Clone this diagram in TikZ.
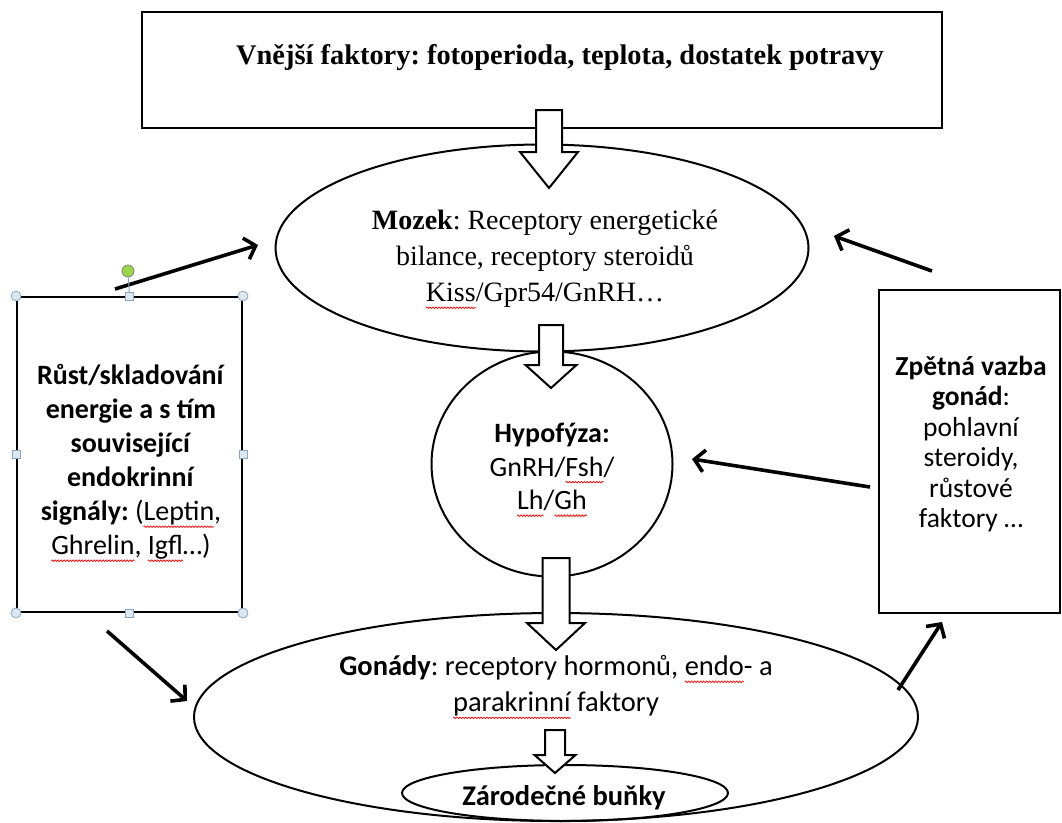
\documentclass[tikz,border=0pt]{standalone}
\usepackage{fontspec}
\setmainfont{Liberation Serif}
\newfontfamily\calib{Carlito}
\usetikzlibrary{shapes.geometric,arrows.meta,decorations.pathmorphing}
\frenchspacing
\newsavebox\sperrbox
\newcommand\sperr[1]{\leavevmode\sbox\sperrbox{#1}\rlap{\usebox\sperrbox}\tikz[baseline=0pt]{\path[use as bounding box] (0pt,0pt) rectangle (\wd\sperrbox,0pt); \draw[red, line width=0.7pt, decorate, decoration={snake, amplitude=0.8pt, segment length=3pt}] (0pt,-6pt) -- (\wd\sperrbox,-6pt);}}
\newcommand\barrow[6]{%
  \draw[blockarr] (#1-#4,#2) -- (#1+#4,#2) -- (#1+#4,#3-#6) -- (#1+#5,#3-#6) -- (#1,#3) -- (#1-#5,#3-#6) -- (#1-#4,#3-#6) -- cycle;}
\tikzset{
  shape line/.style={draw=black, line width=2pt},
  boxnode/.style={shape line, rectangle, inner sep=0pt, fill=white},
  ell/.style={shape line, ellipse, inner sep=0pt},
  blockarr/.style={draw=black, line width=2pt, fill=white, line join=miter},
  conn/.style={line width=3.6pt, -{Straight Barb[length=10pt, width=22pt, line width=3.6pt]}},
  sanstxt/.style={font=\calib\fontsize{28}{34}\selectfont, align=center, inner sep=0pt},
  seriftxt/.style={font=\fontsize{28}{36}\selectfont, align=center, inner sep=0pt},
  hcirc/.style={circle, draw=handlestroke, fill=handlefill, line width=0.8pt, minimum size=10pt, inner sep=0pt},
  hsq/.style={rectangle, draw=handlestroke, fill=handlefill, line width=0.8pt, minimum size=8pt, inner sep=0pt},
}
\definecolor{handlestroke}{HTML}{8AA5BF}
\definecolor{handlefill}{HTML}{DCE8F1}
\definecolor{greenhandle}{HTML}{9BD54A}
\begin{document}
\begin{tikzpicture}[x=1pt, y=-1pt]
\useasboundingbox[fill=white] (0,0) rectangle (1062,822);

% shapes
\node[boxnode, minimum width=800pt, minimum height=116pt] (top) at (542,70) {};
\node[font=\bfseries\fontsize{28.4}{34}\selectfont, inner sep=0pt] (toptxt) at (560,58) {Vnější faktory: fotoperioda, teplota, dostatek potravy};

\node[ell, minimum width=533pt, minimum height=207pt] (mozek) at (542,248) {};
\node[seriftxt] (mozektxt) at (545,259) {\textbf{Mozek}: Receptory energetické\\ bilance, receptory steroidů\\ \sperr{Kiss}/Gpr54/GnRH…};

\node[ell, minimum width=241pt, minimum height=225pt] (hypo) at (552,464) {};
\node[sanstxt, font=\calib\fontsize{28}{33.5}\selectfont] (hypotxt) at (552,467) {\textbf{Hypofýza:}\\ GnRH/\sperr{Fsh}/\\ \sperr{Lh}/\sperr{Gh}};

\node[ell, minimum width=724pt, minimum height=208pt] (gon) at (556,717) {};
\node[sanstxt, font=\calib\fontsize{28.5}{36}\selectfont] (gontxt) at (556,686) {\textbf{Gonády}: receptory hormonů, \sperr{endo}- a\\ \sperr{parakrinní} faktory};

\node[ell, minimum width=326pt, minimum height=56pt] (zar) at (565,793) {};

\node[boxnode, minimum width=225pt, minimum height=315pt] (left) at (129.5,454.5) {};
\node[sanstxt] (lefttxt) at (131,462) {\textbf{Růst/skladování}\\ \textbf{energie a s tím}\\ \textbf{související}\\ \textbf{endokrinní}\\ \textbf{signály:} (\sperr{Leptin},\\ \sperr{Ghrelin}, \sperr{Igfl}…)};

\node[boxnode, minimum width=181pt, minimum height=323pt] (right) at (969.5,451.5) {};
\node[sanstxt, font=\calib\fontsize{27.5}{30.4}\selectfont] (righttxt) at (971,444) {\textbf{Zpětná vazba}\\ \textbf{gonád}:\\ pohlavní\\ steroidy,\\ růstové\\ faktory …};

% block arrows
\barrow{549}{110}{188}{13}{29}{36}
\barrow{551}{325}{388}{12}{25.5}{23}
\barrow{556}{558}{650}{13.5}{29}{27}
\barrow{555}{730}{773}{10}{20.5}{18}

\node[font=\calib\bfseries\fontsize{28.5}{30}\selectfont, inner sep=0pt] (zartxt) at (564,798) {Zárodečné buňky};

% thin connectors
\coordinate (a1s) at (115,289); \coordinate (a1e) at (258,245);
\coordinate (a2s) at (932,271); \coordinate (a2e) at (834,236);
\coordinate (a3s) at (870,487); \coordinate (a3e) at (692,459);
\coordinate (a4s) at (107,631); \coordinate (a4e) at (187,701);
\coordinate (a5s) at (898,690); \coordinate (a5e) at (942,622);
\draw[conn] (a1s) -- (a1e);
\draw[conn] (a2s) -- (a2e);
\draw[conn] (a3s) -- (a3e);
\draw[conn] (a4s) -- (a4e);
\draw[conn] (a5s) -- (a5e);

% selection handles on left box
\node[hcirc, minimum size=12pt, fill=greenhandle, draw=gray] (rot) at (128,271) {};
\draw[handlestroke, line width=1pt] (rot) -- (left.north);
\node[hcirc] (h1) at (left.north west) {};
\node[hcirc] (h2) at (left.north east) {};
\node[hcirc] (h3) at (left.south west) {};
\node[hcirc] (h4) at (left.south east) {};
\node[hsq] (h5) at (left.north) {};
\node[hsq] (h6) at (left.south) {};
\node[hsq] (h7) at (left.west) {};
\node[hsq] (h8) at (left.east) {};
\end{tikzpicture}
\end{document}
